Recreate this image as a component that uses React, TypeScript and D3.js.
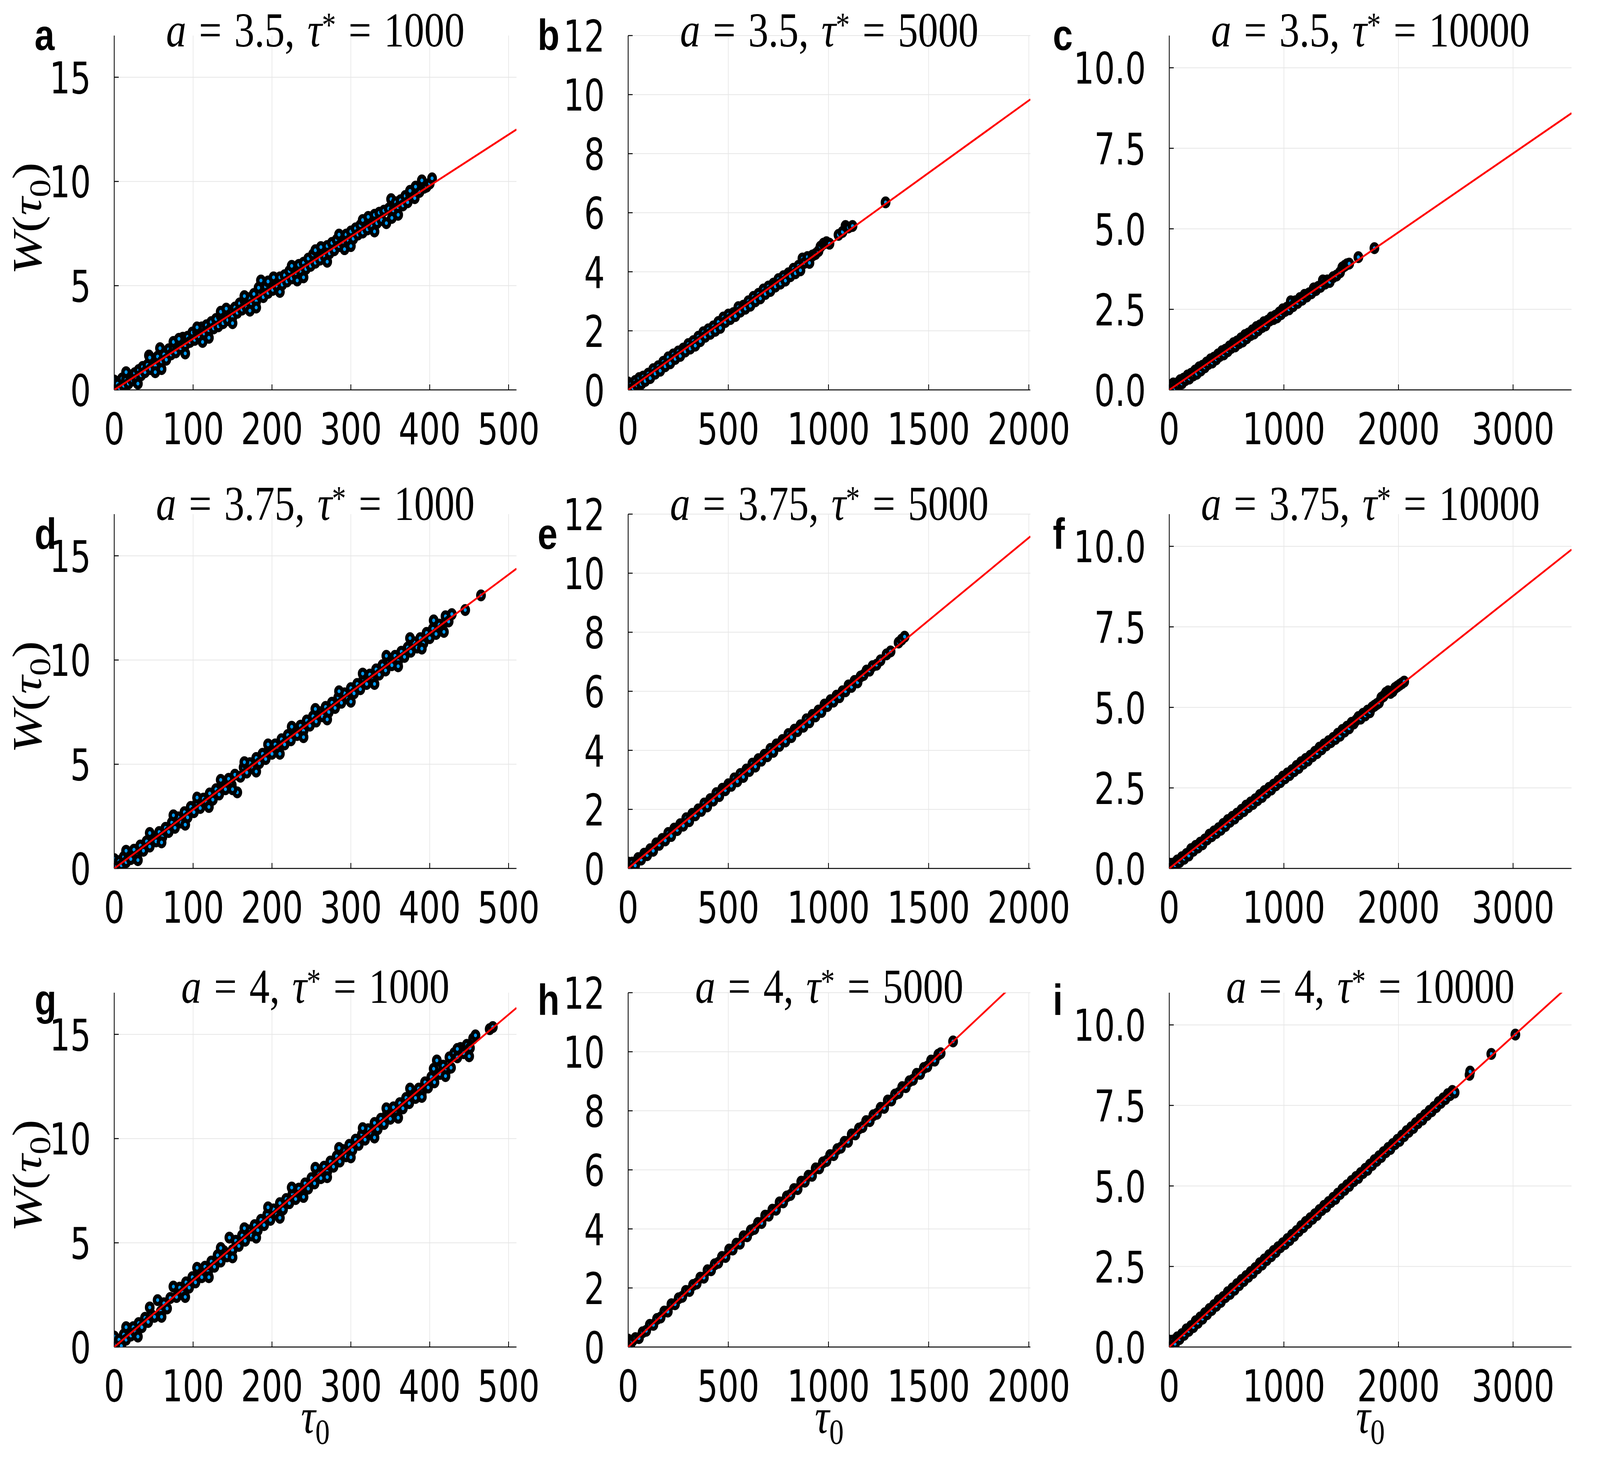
import React, { useEffect, useRef } from 'react';
import * as d3 from 'd3';

type Pt = [number, number];

// layout of the 3x3 grid (pixels in a 5000x3750 canvas)
const W = 5000;
const H = 3750;
const colLeft = [357, 1963, 3654];
const rowTop = [91, 1316, 2541];
const plotW = 1257;
const plotH = 907;
const titleBase = [119, 1331, 2567];
const letterX = [108, 1680, 3290];
const letterBase = [128, 1405, 2598];

// axes per column
const xMax = [510, 2008, 3510];
const yMax = [17, 12, 11];
const xTicks = [[0, 100, 200, 300, 400, 500], [0, 500, 1000, 1500, 2000], [0, 1000, 2000, 3000]];
const yTicks = [[0, 5, 10, 15], [0, 2, 4, 6, 8, 10, 12], [0, 2.5, 5, 7.5, 10]];

const aValues = ['3.5', '3.75', '4'];
const tauStar = ['1000', '5000', '10000'];
const panelLetters = ['a', 'b', 'c', 'd', 'e', 'f', 'g', 'h', 'i'];

// slope of the red fit line in each panel
const fitSlopes = [0.0245, 0.0049, 0.002447, 0.0282, 0.0056, 0.00282, 0.0319, 0.00638, 0.003216];

const ptsA: Pt[] = [
    [0,0.45],[2,0.1],[4,0.3],[7,0.05],[10,0.55],[12,0.2],[15,0.5],[18,0.3],[20,0.7],[23,0.45],[26,0.8],[28,0.5],[31,0.95],[34,0.7],[36,1.1],[39,0.85],[42,1.2],[44,1.65],[46,1.0],[49,1.45],[52,1.15],[55,1.6],[58,2.0],[60,1.35],[63,1.7],[66,1.45],[69,1.95],[72,1.7],[75,2.05],[78,1.8],[81,2.3],[84,2.0],[87,2.5],[90,2.15],[93,2.55],[96,2.3],[99,2.75],[102,2.4],[105,2.8],[108,2.55],[111,3.0],[114,2.7],[117,3.1],[120,2.85],[123,3.25],[126,2.95],[129,3.4],[132,3.05],[135,3.55],[138,3.2],[141,3.7],[144,3.35],[147,3.8],[150,3.5],[153,3.95],[156,3.7],[159,4.15],[162,3.85],[165,4.3],[168,3.95],[171,4.4],[174,4.1],[177,4.6],[180,4.25],[183,4.9],[186,5.25],[189,4.45],[192,4.95],[195,4.65],[198,5.2],[201,4.8],[204,5.3],[207,4.95],[210,5.4],[213,5.05],[216,5.5],[219,5.2],[222,5.7],[225,5.35],[228,5.85],[231,5.5],[234,6.0],[237,5.65],[240,6.1],[243,5.8],[246,6.3],[249,5.95],[252,6.5],[255,6.1],[258,6.6],[261,6.25],[264,6.75],[267,6.4],[270,6.9],[273,6.55],[276,7.05],[279,6.7],[282,7.2],[285,6.9],[288,7.35],[291,7.0],[294,7.45],[297,7.15],[300,7.6],[303,7.25],[306,7.75],[309,7.45],[312,7.9],[315,7.55],[318,8.05],[321,7.7],[324,8.25],[327,7.85],[330,8.4],[333,8.0],[336,8.5],[339,8.15],[342,8.6],[345,8.0],[348,8.7],[351,9.15],[354,8.6],[357,9.0],[360,8.75],[363,9.1],[366,8.85],[369,9.3],[372,9.0],[375,9.4],[378,9.25],[381,9.2],[384,9.65],[387,9.5],[390,10.05],[393,9.7],[396,9.75],[400,9.9],[403,10.15],
    [15,0.85],[30,0.3],[45,1.55],[52,0.85],[60,1.0],[75,2.3],[82,2.45],[90,1.75],[105,3.0],[112,2.3],[120,2.5],[135,3.75],[142,3.9],[150,3.2],[165,4.5],[172,3.8],[180,3.95],[195,5.2],[202,5.4],[210,4.7],[225,5.95],[232,5.25],[240,5.4],[255,6.7],[262,6.85],[270,6.15],[285,7.45],[292,6.75],[300,6.9],[315,8.15],[322,8.3],[330,7.6],[352,8.25],[360,8.4],[375,9.55],[382,9.75],
];

const ptsB: Pt[] = [
    [0,0.25],[8,0.05],[15,0.2],[25,0.05],[35,0.3],[45,0.15],[55,0.4],[65,0.2],[75,0.45],[85,0.3],[100,0.55],[110,0.4],[125,0.7],[135,0.55],[150,0.8],[160,0.65],[175,0.95],[185,0.8],[200,1.1],[210,0.9],[225,1.2],[235,1.05],[250,1.3],[260,1.15],[275,1.4],[285,1.3],[300,1.55],[310,1.4],[325,1.65],[335,1.5],[350,1.8],[360,1.65],[375,1.95],[385,1.8],[400,2.05],[410,1.9],[425,2.15],[435,2.0],[450,2.3],[460,2.1],[475,2.45],[485,2.3],[500,2.55],[510,2.4],[525,2.6],[535,2.5],[550,2.8],[560,2.65],[575,2.85],[585,2.75],[600,3.0],[610,2.85],[625,3.15],[635,3.0],[650,3.25],[660,3.1],[675,3.4],[685,3.25],[700,3.5],[710,3.35],[725,3.6],[735,3.5],[750,3.75],[760,3.6],[775,3.85],[785,3.7],[800,3.95],[810,3.85],[825,4.1],[835,3.95],[850,4.2],[860,4.05],[870,4.45],[880,4.3],[895,4.5],[905,4.3],[920,4.55],[935,4.6],[950,4.7],[960,4.85],[975,4.95],[990,5.0],[1005,4.95],[1050,5.25],[1070,5.35],[1085,5.55],[1100,5.5],[1120,5.55],[1285,6.35],
];

const ptsC: Pt[] = [
    [0,0.15],[10,0.0],[20,0.1],[35,0.2],[50,0.05],[65,0.2],[80,0.15],[95,0.3],[110,0.2],[125,0.35],[140,0.3],[160,0.45],[175,0.35],[190,0.5],[210,0.45],[225,0.6],[240,0.5],[260,0.7],[275,0.6],[290,0.75],[310,0.7],[325,0.85],[340,0.8],[360,0.95],[375,0.85],[390,1.0],[410,0.95],[425,1.1],[440,1.05],[460,1.2],[475,1.1],[490,1.25],[510,1.2],[525,1.35],[540,1.3],[560,1.45],[575,1.35],[590,1.5],[610,1.45],[625,1.6],[640,1.5],[660,1.7],[675,1.6],[690,1.75],[710,1.7],[725,1.85],[740,1.75],[760,1.95],[775,1.85],[790,2.0],[810,1.95],[825,2.1],[840,2.0],[860,2.15],[875,2.15],[890,2.25],[910,2.2],[925,2.3],[940,2.25],[960,2.4],[975,2.35],[990,2.5],[1010,2.45],[1025,2.55],[1045,2.5],[1060,2.75],[1080,2.6],[1100,2.75],[1120,2.7],[1140,2.85],[1160,2.8],[1180,2.95],[1200,2.9],[1220,3.0],[1240,3.0],[1260,3.15],[1280,3.1],[1300,3.2],[1320,3.2],[1340,3.4],[1360,3.3],[1380,3.4],[1400,3.35],[1430,3.5],[1460,3.55],[1490,3.65],[1510,3.8],[1530,3.85],[1550,3.9],[1570,3.92],[1650,4.12],[1790,4.4],
];

const ptsD: Pt[] = [
    [0,0.45],[3,0.1],[6,0.35],[9,0.15],[12,0.55],[15,0.3],[18,0.65],[21,0.45],[25,0.9],[29,0.6],[33,1.1],[37,0.85],[41,1.3],[45,1.05],[49,1.5],[53,1.3],[57,1.75],[61,1.5],[65,1.95],[69,1.75],[73,2.2],[77,1.95],[81,2.45],[85,2.2],[89,2.7],[93,2.45],[97,2.95],[101,2.7],[105,3.15],[109,2.9],[113,3.35],[117,3.15],[121,3.6],[125,3.3],[129,3.8],[133,3.55],[137,4.05],[141,3.8],[145,4.3],[149,4.0],[153,4.5],[156,3.65],[160,4.4],[164,4.85],[168,4.6],[172,5.05],[176,4.8],[180,5.3],[184,5.05],[188,5.5],[192,5.25],[196,5.75],[200,5.5],[204,5.95],[208,5.7],[212,6.2],[216,5.95],[220,6.4],[224,6.15],[228,6.6],[232,6.4],[236,6.85],[240,6.6],[244,7.1],[248,6.85],[252,7.3],[256,7.05],[260,7.5],[264,7.3],[268,7.75],[272,7.5],[276,7.95],[280,7.7],[284,8.2],[288,7.95],[292,8.4],[296,8.15],[300,8.65],[304,8.4],[308,8.85],[312,8.6],[316,9.1],[320,8.85],[324,9.3],[328,9.05],[332,9.55],[336,9.3],[340,9.75],[344,9.5],[348,9.95],[352,9.75],[356,10.2],[360,9.95],[364,10.4],[368,10.15],[372,10.6],[376,10.4],[380,10.85],[384,10.6],[388,11.05],[392,10.8],[396,11.3],[400,11.05],[404,11.5],[408,11.25],[412,11.7],[416,11.5],[420,12.1],[424,11.85],[428,12.2],[445,12.4],[465,13.1],
    [15,0.85],[30,0.4],[45,1.7],[60,1.25],[75,2.55],[90,2.1],[105,3.4],[120,2.95],[135,4.25],[150,3.8],[165,5.1],[180,4.65],[195,5.95],[210,5.5],[225,6.8],[240,6.3],[255,7.65],[270,7.15],[285,8.5],[300,8.0],[315,9.35],[330,8.85],[345,10.2],[360,9.7],[375,11.05],[390,10.55],[405,11.9],[418,11.35],
];

const ptsE: Pt[] = [
    [0,0.2],[10,0.05],[20,0.2],[35,0.1],[50,0.35],[65,0.3],[80,0.5],[95,0.45],[110,0.65],[125,0.6],[140,0.85],[155,0.8],[170,1.0],[185,0.95],[200,1.2],[215,1.1],[230,1.35],[245,1.3],[260,1.5],[275,1.45],[290,1.7],[305,1.6],[320,1.85],[335,1.8],[350,2.0],[365,1.95],[380,2.2],[395,2.1],[410,2.35],[425,2.3],[440,2.55],[455,2.45],[470,2.7],[485,2.65],[500,2.85],[515,2.8],[530,3.05],[545,2.95],[560,3.2],[575,3.1],[590,3.35],[605,3.3],[620,3.55],[635,3.45],[650,3.7],[665,3.65],[680,3.85],[695,3.8],[710,4.05],[725,3.95],[740,4.2],[755,4.15],[770,4.35],[785,4.3],[800,4.55],[815,4.45],[830,4.7],[845,4.65],[860,4.85],[875,4.8],[890,5.05],[905,4.95],[920,5.2],[935,5.15],[950,5.35],[965,5.3],[980,5.55],[995,5.5],[1010,5.7],[1025,5.65],[1040,5.85],[1055,5.8],[1070,6.0],[1085,6.0],[1100,6.2],[1115,6.15],[1130,6.35],[1145,6.3],[1160,6.5],[1175,6.55],[1190,6.7],[1205,6.7],[1220,6.85],[1240,6.9],[1260,7.05],[1290,7.25],[1310,7.35],[1350,7.65],[1365,7.75],[1380,7.85],
];

const ptsF: Pt[] = [
    [0,0.15],[15,0.0],[30,0.15],[50,0.1],[70,0.25],[90,0.2],[110,0.35],[130,0.3],[150,0.45],[170,0.4],[190,0.6],[210,0.55],[230,0.7],[250,0.65],[270,0.8],[290,0.75],[310,0.9],[330,0.9],[350,1.05],[370,1.0],[390,1.15],[410,1.1],[430,1.25],[450,1.2],[470,1.38],[490,1.32],[510,1.5],[530,1.45],[550,1.6],[570,1.55],[590,1.7],[610,1.68],[630,1.82],[650,1.78],[670,1.95],[690,1.9],[710,2.05],[730,2.0],[750,2.15],[770,2.12],[790,2.28],[810,2.22],[830,2.4],[850,2.35],[870,2.5],[890,2.45],[910,2.6],[930,2.58],[950,2.72],[970,2.68],[990,2.85],[1010,2.8],[1030,2.95],[1050,2.9],[1070,3.05],[1090,3.02],[1110,3.18],[1130,3.12],[1150,3.3],[1170,3.25],[1190,3.4],[1210,3.35],[1230,3.5],[1250,3.48],[1270,3.62],[1290,3.58],[1310,3.75],[1330,3.7],[1350,3.85],[1370,3.82],[1390,3.95],[1410,3.92],[1430,4.05],[1450,4.02],[1470,4.18],[1490,4.12],[1510,4.3],[1530,4.25],[1550,4.4],[1570,4.35],[1590,4.52],[1610,4.5],[1630,4.6],[1650,4.7],[1670,4.65],[1690,4.8],[1710,4.75],[1730,4.9],[1750,4.85],[1770,5.0],[1790,5.05],[1810,5.1],[1830,5.15],[1850,5.3],[1870,5.35],[1890,5.45],[1910,5.5],[1930,5.45],[1950,5.5],[1970,5.6],[1990,5.65],[2010,5.7],[2030,5.75],[2050,5.8],
];

const ptsG: Pt[] = [
    [0,0.5],[3,0.15],[6,0.35],[9,0.05],[12,0.6],[15,0.35],[18,0.85],[21,0.55],[24,0.95],[27,0.7],[31,1.15],[35,0.95],[39,1.4],[43,1.2],[47,1.55],[51,1.45],[55,2.25],[59,1.7],[63,2.1],[67,1.85],[71,2.35],[75,2.9],[79,2.4],[83,2.85],[87,2.6],[91,3.1],[95,2.85],[99,3.35],[103,3.1],[107,3.6],[111,3.35],[115,3.85],[119,3.6],[123,4.1],[127,3.85],[131,4.4],[135,4.1],[139,4.6],[143,4.35],[146,5.25],[150,4.65],[154,5.1],[158,4.85],[162,5.35],[166,5.1],[170,5.6],[174,5.35],[178,5.85],[182,5.6],[186,6.1],[190,5.85],[194,6.35],[198,6.1],[202,6.6],[206,6.35],[210,6.9],[214,6.6],[218,7.1],[222,6.9],[226,7.35],[230,7.1],[234,7.6],[238,7.35],[242,7.85],[246,7.6],[250,8.1],[254,7.85],[258,8.4],[262,8.1],[266,8.65],[270,8.4],[274,8.9],[278,8.65],[282,9.15],[286,8.9],[290,9.45],[294,9.15],[298,9.7],[302,9.45],[306,9.95],[310,9.7],[314,10.2],[318,9.95],[322,10.45],[326,10.2],[330,10.75],[334,10.45],[338,10.95],[342,10.7],[346,11.25],[350,10.95],[354,11.5],[358,11.2],[362,11.7],[366,11.45],[370,11.95],[374,11.7],[378,12.2],[382,11.95],[386,12.4],[390,12.2],[394,12.7],[398,12.45],[402,12.95],[406,12.7],[409,13.75],[413,13.1],[417,13.5],[421,13.25],[425,13.9],[427,13.4],[431,14.1],[435,13.9],[439,14.35],[443,14.1],[447,14.5],[451,14.35],[455,14.8],[458,14.95],[476,15.25],[480,15.35],
    [15,0.95],[30,0.5],[45,1.9],[60,1.45],[90,2.4],[105,3.8],[120,3.35],[135,4.75],[150,4.3],[165,5.7],[180,5.25],[195,6.7],[210,6.2],[225,7.65],[240,7.2],[255,8.6],[270,8.15],[285,9.55],[300,9.1],[315,10.5],[330,10.05],[345,11.45],[360,11.0],[375,12.4],[390,12.0],[405,13.35],[420,13.0],[435,14.3],[450,13.95],
];

const ptsH: Pt[] = [
    [0,0.25],[10,0.05],[20,0.2],[36,0.3],[54,0.3],[72,0.5],[90,0.55],[108,0.75],[126,0.75],[144,0.95],[162,1.0],[180,1.2],[198,1.2],[216,1.45],[234,1.45],[252,1.65],[270,1.7],[288,1.9],[306,1.9],[324,2.1],[342,2.15],[360,2.35],[378,2.35],[396,2.6],[414,2.6],[432,2.8],[450,2.85],[468,3.05],[486,3.05],[504,3.3],[522,3.3],[540,3.5],[558,3.5],[576,3.75],[594,3.75],[612,3.95],[630,4.0],[648,4.2],[666,4.2],[684,4.45],[702,4.45],[720,4.65],[738,4.65],[756,4.9],[774,4.9],[792,5.1],[810,5.15],[828,5.35],[846,5.35],[864,5.6],[882,5.6],[900,5.8],[918,5.8],[936,6.05],[954,6.05],[972,6.25],[990,6.3],[1008,6.5],[1026,6.5],[1044,6.7],[1062,6.75],[1080,6.95],[1098,6.95],[1116,7.2],[1134,7.2],[1152,7.4],[1170,7.45],[1188,7.65],[1206,7.65],[1224,7.85],[1242,7.9],[1260,8.1],[1278,8.1],[1296,8.35],[1314,8.35],[1332,8.55],[1350,8.6],[1368,8.8],[1386,8.8],[1404,9.0],[1422,9.05],[1440,9.25],[1458,9.25],[1476,9.45],[1494,9.5],[1512,9.7],[1530,9.7],[1548,9.9],[1560,9.95],[1622,10.35],
];

const ptsI: Pt[] = [
    [0,0.2],[15,0.05],[30,0.2],[50,0.1],[70,0.3],[90,0.25],[110,0.4],[130,0.38],[150,0.55],[170,0.5],[190,0.65],[210,0.62],[230,0.8],[250,0.75],[270,0.92],[290,0.88],[310,1.05],[330,1.02],[350,1.18],[370,1.15],[390,1.3],[410,1.28],[430,1.45],[450,1.4],[470,1.55],[490,1.55],[510,1.7],[530,1.65],[550,1.82],[570,1.78],[590,1.95],[610,1.92],[630,2.08],[650,2.05],[670,2.2],[690,2.18],[710,2.33],[730,2.3],[750,2.45],[770,2.44],[790,2.6],[810,2.56],[830,2.72],[850,2.7],[870,2.85],[890,2.82],[910,2.98],[930,2.95],[950,3.1],[970,3.1],[990,3.22],[1010,3.2],[1030,3.35],[1050,3.32],[1070,3.48],[1090,3.45],[1110,3.6],[1130,3.6],[1150,3.75],[1170,3.72],[1190,3.88],[1210,3.85],[1230,4.0],[1250,3.98],[1270,4.12],[1290,4.1],[1310,4.25],[1330,4.25],[1350,4.38],[1370,4.35],[1390,4.5],[1410,4.5],[1430,4.63],[1450,4.6],[1470,4.76],[1490,4.75],[1510,4.9],[1530,4.88],[1550,5.02],[1570,5.0],[1590,5.15],[1610,5.15],[1630,5.28],[1650,5.25],[1670,5.4],[1690,5.4],[1710,5.53],[1730,5.5],[1750,5.66],[1770,5.65],[1790,5.8],[1810,5.78],[1830,5.92],[1850,5.9],[1870,6.05],[1890,6.05],[1910,6.18],[1930,6.15],[1950,6.3],[1970,6.3],[1990,6.43],[2010,6.4],[2030,6.56],[2050,6.55],[2070,6.7],[2090,6.68],[2110,6.82],[2130,6.8],[2150,6.95],[2170,6.95],[2190,7.08],[2210,7.06],[2230,7.2],[2250,7.2],[2270,7.33],[2290,7.32],[2310,7.45],[2330,7.45],[2350,7.6],[2370,7.58],[2390,7.72],[2410,7.7],[2430,7.85],[2450,7.82],[2470,7.95],[2490,7.9],[2620,8.45],[2625,8.55],[2810,9.1],[3020,9.7],
];

const panels = [ptsA, ptsB, ptsC, ptsD, ptsE, ptsF, ptsG, ptsH, ptsI];

const tickFont = "'DejaVu Sans Condensed', 'DejaVu Sans', sans-serif";
const mathFont = "'Liberation Serif', 'DejaVu Serif', serif";
const letterFont = "'Liberation Sans', Arial, sans-serif";

export default function App() {
    const svgRef = useRef<SVGSVGElement | null>(null);

    useEffect(() => {
        if (!svgRef.current) return;
        const svg = d3.select(svgRef.current);
        svg.selectAll("*").remove();

        svg.append("rect").attr("width", W).attr("height", H).attr("fill", "white");
        const defs = svg.append("defs");

        panels.forEach((pts, i) => {
            const row = Math.floor(i / 3);
            const col = i % 3;
            const left = colLeft[col];
            const top = rowTop[row];
            const bottom = top + plotH;

            const xScale = d3.scaleLinear().domain([0, xMax[col]]).range([left, left + plotW]);
            const yScale = d3.scaleLinear().domain([0, yMax[col]]).range([bottom, top]);

            defs.append("clipPath").attr("id", `clip${i}`)
                .append("rect").attr("x", left).attr("y", top).attr("width", plotW).attr("height", plotH);

            const g = svg.append("g");

            // grid lines
            g.selectAll(".gx").data(xTicks[col]).join("line").attr("class", "gx")
                .attr("x1", d => xScale(d)).attr("x2", d => xScale(d))
                .attr("y1", top).attr("y2", bottom)
                .attr("stroke", "#e6e6e6").attr("stroke-width", 2);
            g.selectAll(".gy").data(yTicks[col]).join("line").attr("class", "gy")
                .attr("x1", left).attr("x2", left + plotW)
                .attr("y1", d => yScale(d)).attr("y2", d => yScale(d))
                .attr("stroke", "#e6e6e6").attr("stroke-width", 2);

            // axis lines and inward ticks
            g.append("line").attr("x1", left).attr("x2", left).attr("y1", top).attr("y2", bottom)
                .attr("stroke", "black").attr("stroke-width", 2.5);
            g.append("line").attr("x1", left).attr("x2", left + plotW).attr("y1", bottom).attr("y2", bottom)
                .attr("stroke", "black").attr("stroke-width", 2.5);
            g.selectAll(".tx").data(xTicks[col]).join("line").attr("class", "tx")
                .attr("x1", d => xScale(d)).attr("x2", d => xScale(d))
                .attr("y1", bottom).attr("y2", bottom - 14)
                .attr("stroke", "black").attr("stroke-width", 2.5);
            g.selectAll(".ty").data(yTicks[col]).join("line").attr("class", "ty")
                .attr("x1", left).attr("x2", left + 14)
                .attr("y1", d => yScale(d)).attr("y2", d => yScale(d))
                .attr("stroke", "black").attr("stroke-width", 2.5);

            // tick labels
            g.selectAll(".lx").data(xTicks[col]).join("text").attr("class", "lx")
                .attr("x", d => xScale(d)).attr("y", bottom + 139)
                .attr("text-anchor", "middle")
                .style("font-family", tickFont).style("font-size", "113px")
                .text(d => d3.format("d")(d));
            const yFmt = col === 2 ? d3.format(".1f") : d3.format("d");
            g.selectAll(".ly").data(yTicks[col]).join("text").attr("class", "ly")
                .attr("x", left - 73).attr("y", d => yScale(d) + 41)
                .attr("text-anchor", "end")
                .style("font-family", tickFont).style("font-size", "113px")
                .text(d => yFmt(d));

            // scatter points
            const clipped = g.append("g").attr("clip-path", `url(#clip${i})`);
            clipped.selectAll(".pt").data(pts).join("circle").attr("class", "pt")
                .attr("cx", d => xScale(d[0])).attr("cy", d => yScale(d[1]))
                .attr("r", 10)
                .attr("fill", "#009afa").attr("stroke", "black").attr("stroke-width", 10.5);

            // fitted line
            const fit: Pt[] = [[0, 0], [xMax[col], fitSlopes[i] * xMax[col]]];
            const line = d3.line<Pt>().x(d => xScale(d[0])).y(d => yScale(d[1]));
            clipped.append("path").datum(fit).attr("d", line)
                .attr("fill", "none").attr("stroke", "#ff0000").attr("stroke-width", 5);

            // title
            const title = g.append("text")
                .attr("x", left + plotW / 2).attr("y", titleBase[row])
                .attr("text-anchor", "middle")
                .style("font-family", mathFont).style("font-size", "126px")
                .style("word-spacing", "8px");
            title.append("tspan").style("font-style", "italic").text("a");
            title.append("tspan").text(` = ${aValues[row]}, `);
            title.append("tspan").style("font-style", "italic").text("τ");
            title.append("tspan").attr("dy", -26).style("font-size", "88px").text("*");
            title.append("tspan").attr("dy", 26).text(` = ${tauStar[col]}`);

            // panel letter
            g.append("text").attr("x", letterX[col]).attr("y", letterBase[row])
                .style("font-family", letterFont).style("font-weight", "bold").style("font-size", "112px")
                .text(panelLetters[i]);

            // y label on the first column
            if (col === 0) {
                const yl = g.append("text")
                    .attr("transform", `translate(128, ${top + plotH / 2 + 15}) rotate(-90)`)
                    .attr("text-anchor", "middle")
                    .style("font-family", mathFont).style("font-size", "130px");
                yl.append("tspan").style("font-style", "italic").text("W");
                yl.append("tspan").text("(");
                yl.append("tspan").style("font-style", "italic").text("τ");
                yl.append("tspan").attr("dy", 28).style("font-size", "92px").text("0");
                yl.append("tspan").attr("dy", -28).text(")");
            }

            // x label on the bottom row
            if (row === 2) {
                const xl = g.append("text")
                    .attr("x", left + plotW / 2).attr("y", 3668)
                    .attr("text-anchor", "middle")
                    .style("font-family", mathFont).style("font-size", "126px");
                xl.append("tspan").style("font-style", "italic").text("τ");
                xl.append("tspan").attr("dy", 28).style("font-size", "90px").text("0");
            }
        });
    }, []);

    // the drawing is laid out on a 5000x3750 canvas and stretched to fill the window
    return (
        <svg ref={svgRef} viewBox={`0 0 ${W} ${H}`} preserveAspectRatio="none"
            style={{ position: 'absolute', left: 0, top: 0, width: '100vw', height: '100vh', background: 'white' }} />
    );
}
